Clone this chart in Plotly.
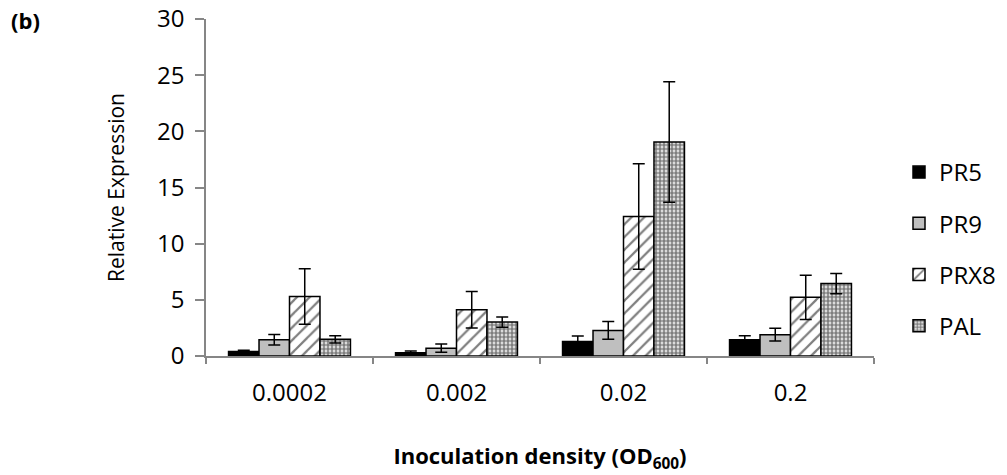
import plotly.graph_objects as go

categories = ["0.0002", "0.002", "0.02", "0.2"]
series_names = ["PR5", "PR9", "PRX8", "PAL"]
pr5 = [0.40, 0.30, 1.30, 1.45]
pr5_err = [0.12, 0.15, 0.47, 0.36]
pr9 = [1.45, 0.70, 2.28, 1.90]
pr9_err = [0.47, 0.36, 0.80, 0.56]
prx8 = [5.30, 4.12, 12.42, 5.22]
prx8_err = [2.47, 1.63, 4.69, 1.96]
pal = [1.48, 3.02, 19.05, 6.45]
pal_err = [0.33, 0.45, 5.36, 0.90]
y_ticks = [0, 5, 10, 15, 20, 25, 30]

FONT = "Open Sans"
AX = "#868686"
OFF = 8  # page body margin
L, R, T, B = 206 - OFF, 133 + OFF, 19 - OFF, 119 + OFF
PW, PH = 1007 - L - R, 475 - T - B

values = [pr5, pr9, prx8, pal]
errors = [pr5_err, pr9_err, prx8_err, pal_err]
colors = ["black", "#BFBFBF", "white", "white"]
patterns = [
    dict(shape=""),
    dict(shape=""),
    dict(shape="/", fgcolor="black", bgcolor="white", size=9, solidity=0.25),
    dict(shape=".", fgcolor="black", bgcolor="white", size=4, solidity=0.7),
]

fig = go.Figure()
for i, name in enumerate(series_names):
    fig.add_trace(go.Bar(
        name=name, x=categories, y=values[i],
        legendgroup=name,
        marker=dict(color=colors[i], line=dict(color="black", width=1.5),
                    pattern=patterns[i]),
        error_y=dict(type="data", array=errors[i], color="black",
                     thickness=1.5, width=6),
    ))

fig.update_layout(
    width=1007, height=475,
    margin=dict(l=L, r=R, t=T, b=B),
    paper_bgcolor="white", plot_bgcolor="white",
    barmode="group", bargap=0.27, bargroupgap=0,
    font=dict(family=FONT, color="black"),
    showlegend=True,
    legend=dict(x=(899 - 206) / PW, xanchor="left",
                y=1 - (249 - 19) / PH, yanchor="middle",
                font=dict(size=24, family=FONT), tracegroupgap=17,
                bgcolor="rgba(0,0,0,0)"),
    xaxis=dict(
        automargin=False,
        showline=True, linecolor=AX, linewidth=1.5,
        ticks="outside", tickson="boundaries", ticklen=6, tickcolor=AX,
        tickwidth=1.5, tickfont=dict(size=24, family=FONT),
        ticklabelstandoff=14,
        title=dict(text="<b>Inoculation density (OD<sub>600</sub>)</b>",
                   font=dict(size=22, family=FONT), standoff=42),
    ),
    yaxis=dict(
        automargin=False,
        range=[0, 30], tickvals=y_ticks, showgrid=False, zeroline=False,
        showline=True, linecolor=AX, linewidth=1.5,
        ticks="outside", ticklen=9, tickcolor=AX, tickwidth=1.5,
        tickfont=dict(size=24, family=FONT), ticklabelstandoff=6,
        ticklabeloverflow="allow",
        title=dict(text="Relative Expression", font=dict(size=21, family=FONT),
                   standoff=27),
    ),
    annotations=[dict(text="<b>(b)</b>", xref="paper", yref="paper",
                      x=(1 - L) / PW, xanchor="left",
                      y=1 + (T - 12) / PH, yanchor="middle",
                      showarrow=False, font=dict(size=22, family=FONT))],
)

fig.write_html("out.html")
